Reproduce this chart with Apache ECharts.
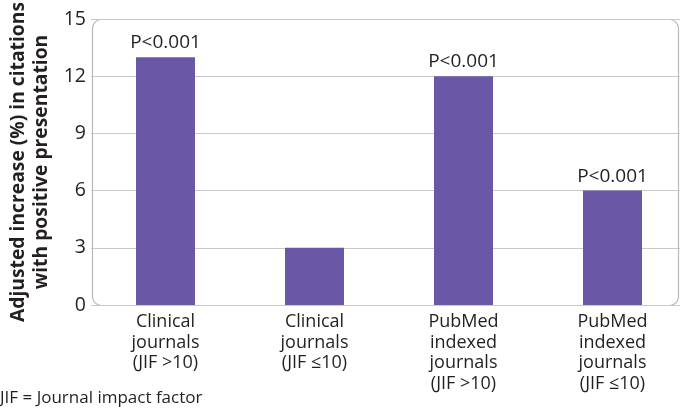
<!DOCTYPE html>
<html>
<head>
<meta charset="utf-8">
<script src="https://cdn.jsdelivr.net/npm/echarts@6/dist/echarts.min.js"></script>
<style>html,body{margin:0;padding:0;background:#fff}#c{width:680px;height:408px}</style>
</head>
<body>
<div id="c"></div>
<script>
const categories = [
  "Clinical\njournals\n(JIF >10)",
  "Clinical\njournals\n(JIF \u226410)",
  "PubMed\nindexed\njournals\n(JIF >10)",
  "PubMed\nindexed\njournals\n(JIF \u226410)"
];
const values = [13, 3, 12, 6];
const pLabels = ["P<0.001", "", "P<0.001", "P<0.001"];
const yTicks = { min: 0, max: 15, interval: 3 };
const yTitle = "Adjusted increase (%) in citations\nwith positive presentation";
const footnote = "JIF = Journal impact factor";

const FONT = "'Open Sans', 'Noto Sans', sans-serif";
const TXT = "#231f20";
const chart = echarts.init(document.getElementById('c'), null, {renderer: 'canvas'});
const footGraphic = {
  type: 'text', left: 0, bottom: 1,
  style: { text: footnote, fill: TXT, font: "17px " + FONT }
};
chart.setOption({
  animation: false,
  backgroundColor: '#fff',
  grid: { left: 91, width: 596, top: 19, height: 286, containLabel: false, outerBoundsMode: 'none' },
  xAxis: {
    type: 'category',
    data: categories,
    axisLine: { show: false },
    axisTick: { show: false },
    axisLabel: { color: TXT, fontFamily: FONT, fontSize: 18, lineHeight: 20.5, margin: 7, interval: 0, verticalAlign: 'top' }
  },
  yAxis: {
    type: 'value',
    min: yTicks.min, max: yTicks.max, interval: yTicks.interval,
    axisLine: { show: false },
    axisTick: { show: false },
    axisLabel: { color: TXT, fontFamily: FONT, fontSize: 19.5, margin: 5 },
    splitLine: { show: true, lineStyle: { color: '#c9c9c9', width: 1 } },
    name: yTitle,
    nameLocation: 'middle',
    nameRotate: 90,
    nameGap: 35,
    nameTextStyle: { color: TXT, fontFamily: FONT, fontSize: 19.3, fontWeight: 'bold', lineHeight: 23, align: 'center' }
  },
  series: [{
    type: 'bar',
    data: values,
    barWidth: 59,
    itemStyle: { color: '#6a58a6' },
    label: {
      show: true, position: 'top', distance: 5,
      color: TXT, fontFamily: FONT, fontSize: 19,
      formatter: p => pLabels[p.dataIndex]
    }
  }],
  graphic: [footGraphic]
});

// Rounded frame around plot area, positioned from the axes
const yTop = chart.convertToPixel({yAxisIndex: 0}, yTicks.max);
const yBot = chart.convertToPixel({yAxisIndex: 0}, yTicks.min);
const c0 = chart.convertToPixel({xAxisIndex: 0}, 0);
const c1 = chart.convertToPixel({xAxisIndex: 0}, 1);
const xLeft = c0 - (c1 - c0) / 2 + 1;
const xRight = chart.getWidth() - 1;
chart.setOption({
  graphic: [footGraphic, {
    type: 'rect', z: -1, silent: true,
    shape: { x: Math.round(xLeft) + 0.5, y: Math.round(yTop) + 0.5, width: Math.round(xRight - xLeft) - 1, height: Math.round(yBot - yTop), r: 9 },
    style: { fill: null, stroke: '#b8b8b8', lineWidth: 1.2 }
  }]
});
</script>
</body>
</html>
